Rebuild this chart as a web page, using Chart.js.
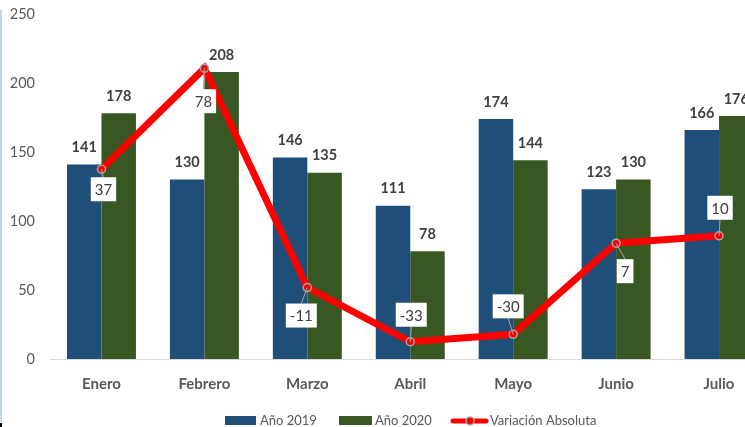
<!DOCTYPE html>
<html>
<head>
<meta charset="utf-8">
<script src="https://cdn.jsdelivr.net/npm/chart.js@4"></script>
<style>
  html, body { margin: 0; padding: 0; background: #fff; overflow: hidden; }
  #contenedor { position: relative; width: 776px; height: 427px; }
</style>
</head>
<body>
<div id="contenedor"><canvas id="grafica"></canvas></div>
<script>
const categorias = ["Enero", "Febrero", "Marzo", "Abril", "Mayo", "Junio", "Julio"];
const anio2019 = [141, 130, 146, 111, 174, 123, 166];
const anio2020 = [178, 208, 135, 78, 144, 130, 176];
const variacion = [37, 78, -11, -33, -30, 7, 10];
const ticksY = [0, 50, 100, 150, 200, 250];

// desplazamiento de cada caja de etiqueta respecto a su punto (estilo)
const desplazamientos = [[2, 20], [-1, 33], [-6, 28], [1, -27], [-5, -28], [9, 28], [1, -28]];

const AZUL = "#1f4e79";
const VERDE = "#385723";
const ROJO = "#ff0000";
const FUENTE = "Lato, 'Open Sans', sans-serif";

const etiquetas = {
  id: "etiquetas",
  afterDatasetsDraw(chart) {
    const ctx = chart.ctx;
    ctx.save();
    // valores sobre las barras
    ctx.font = "bold 14.5px " + FUENTE;
    ctx.fillStyle = "#404040";
    ctx.textAlign = "center";
    ctx.textBaseline = "middle";
    [0, 1].forEach((i) => {
      chart.getDatasetMeta(i).data.forEach((bar, j) => {
        ctx.fillText(chart.data.datasets[i].data[j], bar.x, bar.y - 17);
      });
    });
    // cajas de la variacion
    ctx.font = "15px " + FUENTE;
    chart.getDatasetMeta(2).data.forEach((pt, j) => {
      const txt = String(variacion[j]);
      const w = ctx.measureText(txt).width + 8;
      const h = 24;
      const cx = pt.x + desplazamientos[j][0];
      const cy = pt.y + desplazamientos[j][1];
      const arriba = desplazamientos[j][1] < 0;
      const ey = arriba ? cy + h / 2 : cy - h / 2;
      ctx.strokeStyle = "#a6a6a6";
      ctx.lineWidth = 1;
      ctx.beginPath();
      ctx.moveTo(pt.x, pt.y);
      ctx.lineTo(cx, ey);
      ctx.stroke();
      ctx.fillStyle = "#ffffff";
      ctx.fillRect(cx - w / 2, cy - h / 2, w, h);
      ctx.fillStyle = "#404040";
      ctx.fillText(txt, cx, cy + 1);
    });
    ctx.restore();
  },
  afterDraw(chart) {
    const ctx = chart.ctx;
    ctx.save();
    // marco izquierdo
    ctx.fillStyle = "#c5d5e8";
    ctx.fillRect(0, 10, 2, 412);
    ctx.fillStyle = "#000000";
    ctx.fillRect(0, 423, 2, 4);
    // leyenda
    const y = 421;
    ctx.font = "13px " + FUENTE;
    ctx.textBaseline = "middle";
    ctx.textAlign = "left";
    let x = 225;
    ctx.fillStyle = AZUL;
    ctx.fillRect(x, y - 5, 31, 9);
    ctx.fillStyle = "#595959";
    ctx.fillText("Año 2019", x + 35, y);
    x = 339;
    ctx.fillStyle = VERDE;
    ctx.fillRect(x, y - 5, 33, 9);
    ctx.fillStyle = "#595959";
    ctx.fillText("Año 2020", x + 36, y);
    x = 451;
    ctx.strokeStyle = ROJO;
    ctx.lineWidth = 5;
    ctx.lineCap = "round";
    ctx.beginPath();
    ctx.moveTo(x + 2, y);
    ctx.lineTo(x + 35, y);
    ctx.stroke();
    ctx.beginPath();
    ctx.arc(x + 19, y, 4, 0, Math.PI * 2);
    ctx.fillStyle = ROJO;
    ctx.fill();
    ctx.lineWidth = 1.5;
    ctx.strokeStyle = "#a6a6a6";
    ctx.stroke();
    ctx.fillStyle = "#595959";
    ctx.fillText("Variación Absoluta", x + 39, y);
    ctx.restore();
  },
};

new Chart(document.getElementById("grafica"), {
  type: "bar",
  data: {
    labels: categorias,
    datasets: [
      { label: "Año 2019", data: anio2019, backgroundColor: AZUL, order: 1, yAxisID: "y" },
      { label: "Año 2020", data: anio2020, backgroundColor: VERDE, order: 1, yAxisID: "y" },
      {
        type: "line",
        label: "Variación Absoluta",
        data: variacion,
        borderColor: ROJO,
        borderWidth: 7,
        pointRadius: 4,
        pointBackgroundColor: ROJO,
        pointBorderColor: "#a6a6a6",
        pointBorderWidth: 1.5,
        tension: 0,
        order: 0,
        yAxisID: "y2",
      },
    ],
  },
  options: {
    responsive: true,
    maintainAspectRatio: false,
    animation: false,
    datasets: { bar: { barPercentage: 1, categoryPercentage: 0.67 } },
    layout: { padding: { left: 0, right: 1, top: 14, bottom: 18 } },
    plugins: { legend: { display: false }, tooltip: { enabled: false } },
    scales: {
      x: {
        grid: { display: false, drawTicks: false },
        border: { display: true, color: "#d9d9d9", width: 1 },
        ticks: {
          padding: 16,
          color: "#595959",
          font: { family: FUENTE, size: 15, weight: "bold" },
        },
      },
      y: {
        min: 0,
        max: 250,
        grid: { display: false, drawTicks: false },
        border: { display: false },
        afterFit: (scale) => {
          scale.width = 50;
          scale.paddingTop = 0;
          scale.paddingBottom = 0;
        },
        afterBuildTicks: (scale) => { scale.ticks = ticksY.map((v) => ({ value: v })); },
        ticks: {
          padding: 15,
          color: "#595959",
          font: { family: FUENTE, size: 14.5 },
        },
      },
      y2: {
        display: false,
        min: -40,
        max: 100,
      },
    },
  },
  plugins: [etiquetas],
});
</script>
</body>
</html>
